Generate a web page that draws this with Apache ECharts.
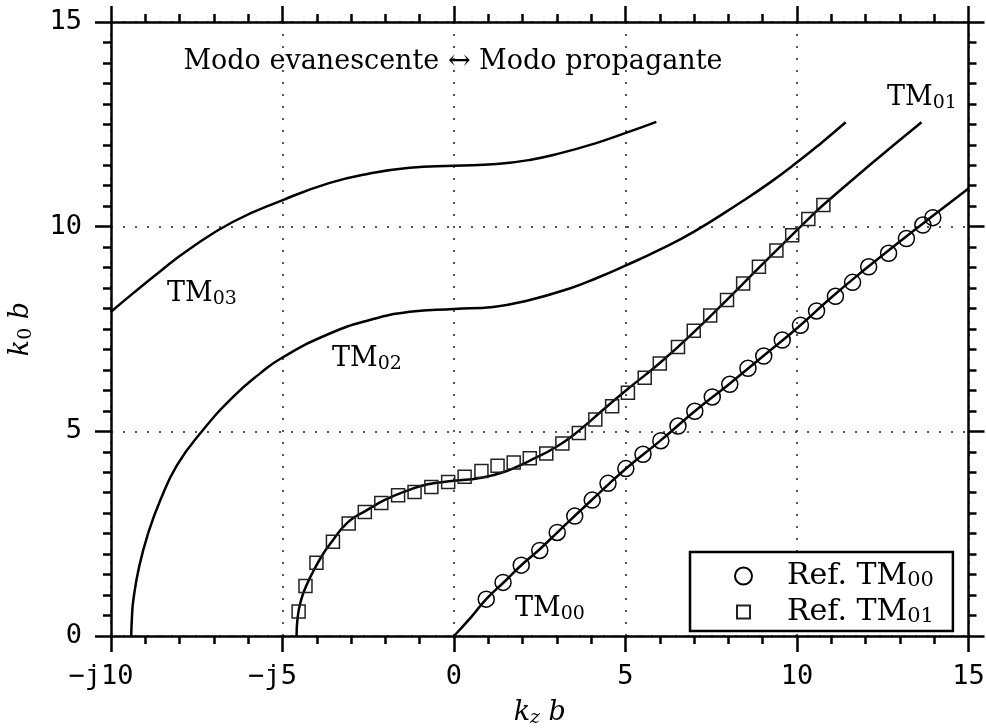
<!DOCTYPE html>
<html>
<head>
<meta charset="utf-8">
<script src="https://cdn.jsdelivr.net/npm/echarts@6/dist/echarts.min.js"></script>
<style>
html,body{margin:0;padding:0;background:#fff;}
#c{width:986px;height:728px;}
</style>
</head>
<body>
<div id="c"></div>
<script>
// ---- data ----
const xTicks = [-10, -5, 0, 5, 10, 15];
const yTicks = [0, 5, 10, 15];

const tm00X = [0, 0.5, 0.94, 1.5, 2.0, 2.5, 3.0, 4.0, 5.0, 6.0, 7.0, 8.0, 9.0, 10.0, 11.0, 12.0, 13.0, 14.0, 15.0];
const tm00Y = [0, 0.46, 0.90, 1.35, 1.76, 2.12, 2.52, 3.31, 4.08, 4.76, 5.48, 6.14, 6.83, 7.52, 8.27, 8.97, 9.64, 10.29, 10.93];

const tm01X = [-4.59, -4.56, -4.46, -4.30, -4.11, -3.87, -3.62, -3.09, -2.55, -2.0, -1.4, -0.8, 0, 0.75, 1.5, 2.2, 3.0, 3.66, 4.34, 5.03, 6.0, 7.0, 8.0, 8.82, 9.4, 10.32, 10.78, 12.0, 13.63];
const tm01Y = [0, 0.45, 0.87, 1.24, 1.57, 1.93, 2.24, 2.78, 3.07, 3.33, 3.54, 3.70, 3.79, 3.86, 4.02, 4.28, 4.63, 5.03, 5.52, 6.01, 6.67, 7.43, 8.25, 8.94, 9.42, 10.18, 10.54, 11.42, 12.55];

const tm02X = [-9.41, -9.39, -9.35, -9.18, -8.92, -8.56, -8.07, -7.36, -6.44, -5.66, -4.99, -3.62, -2.46, -1.29, 0, 1.14, 2.21, 3.37, 4.15, 5.03, 6.0, 7.0, 8.33, 9.2, 10.03, 10.7, 11.42];
const tm02Y = [0, 0.45, 0.87, 1.69, 2.50, 3.32, 4.18, 4.99, 5.84, 6.41, 6.81, 7.39, 7.72, 7.92, 7.99, 8.04, 8.21, 8.49, 8.74, 9.06, 9.44, 9.88, 10.58, 11.07, 11.59, 12.04, 12.55];

const tm03X = [-10, -9.36, -8.58, -7.75, -6.44, -4.99, -3.62, -2.46, -1.29, 0, 1.24, 2.21, 3.08, 4.1, 5.01, 5.90];
const tm03Y = [7.92, 8.37, 8.90, 9.43, 10.12, 10.65, 11.07, 11.30, 11.44, 11.49, 11.53, 11.63, 11.79, 12.03, 12.29, 12.56];

const refTm00X = [0.94, 1.43, 1.96, 2.50, 3.01, 3.52, 4.03, 4.49, 5.01, 5.51, 6.03, 6.53, 7.02, 7.53, 8.04, 8.57, 9.03, 9.57, 10.10, 10.57, 11.12, 11.62, 12.09, 12.67, 13.19, 13.67, 13.96];
const refTm00Y = [0.90, 1.31, 1.73, 2.09, 2.53, 2.93, 3.32, 3.73, 4.09, 4.44, 4.77, 5.13, 5.49, 5.84, 6.15, 6.54, 6.84, 7.23, 7.59, 7.94, 8.30, 8.64, 9.02, 9.35, 9.71, 10.04, 10.22];

const refTm01X = [-4.53, -4.33, -4.01, -3.53, -3.07, -2.60, -2.12, -1.63, -1.15, -0.66, -0.17, 0.31, 0.80, 1.27, 1.74, 2.21, 2.69, 3.16, 3.64, 4.12, 4.61, 5.07, 5.56, 6.00, 6.53, 6.99, 7.47, 7.96, 8.43, 8.89, 9.40, 9.86, 10.33, 10.77];
const refTm01Y = [0.60, 1.22, 1.79, 2.30, 2.75, 3.03, 3.25, 3.44, 3.52, 3.64, 3.76, 3.89, 4.03, 4.16, 4.24, 4.34, 4.46, 4.70, 4.96, 5.29, 5.61, 5.94, 6.31, 6.66, 7.06, 7.46, 7.83, 8.21, 8.61, 9.02, 9.42, 9.79, 10.19, 10.53];

const legendNames = ['Ref. TM00', 'Ref. TM01'];
const titleText = 'Modo evanescente \u2194 Modo propagante';
const modeLabels = [
  {main: 'TM', sub: '01'},
  {main: 'TM', sub: '03'},
  {main: 'TM', sub: '02'},
  {main: 'TM', sub: '00'}
];

// ---- helpers ----
const zip = (xs, ys) => xs.map((x, i) => [x, ys[i]]);
const SERIF = '"DejaVu Serif", "Liberation Serif", serif';
const MONO = '"DejaVu Sans Mono", "Liberation Mono", monospace';
const FS = 27;
const richSerif = {
  a: {fontFamily: SERIF, fontSize: FS, lineHeight: 30, color: '#000'},
  s: {fontFamily: SERIF, fontSize: 19, lineHeight: 18, padding: [14, 0, 0, 0], verticalAlign: 'bottom', color: '#000'},
  i: {fontFamily: SERIF, fontStyle: 'italic', fontSize: FS, lineHeight: 30, color: '#000'},
  si: {fontFamily: SERIF, fontStyle: 'italic', fontSize: 19, lineHeight: 18, padding: [14, 0, 0, 0], verticalAlign: 'bottom', color: '#000'},
  lg: {fontFamily: SERIF, fontSize: 30, lineHeight: 30, padding: [0, 0, 0, 30], color: '#000'},
  ls: {fontFamily: SERIF, fontSize: 21, lineHeight: 18, padding: [14, 0, 0, 0], verticalAlign: 'bottom', color: '#000'}
};

const chart = echarts.init(document.getElementById('c'), null, {renderer: 'canvas'});

const axisLineStyle = {color: '#000', width: 2.5};
const lineStyle = {color: '#000', width: 2.5};
const SMOOTH = 0.5;

function xLabel(v) {
  if (v < 0) return '{n|\u2212j' + (-v) + '}';
  return '{p|' + v + '}';
}

const option = {
  animation: false,
  backgroundColor: '#fff',
  grid: {left: 111, right: 17.5, top: 22, bottom: 92, containLabel: false, outerBoundsMode: 'none'},
  xAxis: [
    {
      type: 'value', min: xTicks[0], max: xTicks[xTicks.length - 1], interval: 5,
      position: 'bottom',
      axisLine: {show: true, onZero: false, lineStyle: axisLineStyle},
      axisTick: {show: true, inside: false, length: 16, lineStyle: axisLineStyle},
      minorTick: {show: true, splitNumber: 5, length: 8, lineStyle: axisLineStyle},
      splitLine: {show: true, lineStyle: {type: [2, 10], color: '#555', width: 2}},
      axisLabel: {
        margin: 27, formatter: xLabel,
        rich: {
          n: {fontFamily: MONO, fontSize: FS, lineHeight: 27, color: '#000', padding: [0, 20, 0, 0]},
          p: {fontFamily: MONO, fontSize: FS, lineHeight: 27, color: '#000'}
        }
      },
      name: '{i|k}{si|z}{i| b}', nameLocation: 'middle', nameGap: 56,
      nameTextStyle: {rich: richSerif}
    },
    {
      type: 'value', min: xTicks[0], max: xTicks[xTicks.length - 1], interval: 5,
      position: 'top',
      axisLine: {show: true, onZero: false, lineStyle: axisLineStyle},
      axisTick: {show: true, inside: false, length: 16, lineStyle: axisLineStyle},
      minorTick: {show: true, splitNumber: 5, length: 8, lineStyle: axisLineStyle},
      splitLine: {show: false},
      axisLabel: {show: false}
    }
  ],
  yAxis: [
    {
      type: 'value', min: yTicks[0], max: yTicks[yTicks.length - 1], interval: 5,
      position: 'left',
      axisLine: {show: true, onZero: false, lineStyle: axisLineStyle},
      axisTick: {show: true, inside: false, length: 16, lineStyle: axisLineStyle},
      minorTick: {show: true, splitNumber: 10, length: 8, lineStyle: axisLineStyle},
      splitLine: {show: true, lineStyle: {type: [2, 10], color: '#555', width: 2}},
      axisLabel: {margin: 29, fontFamily: MONO, fontSize: FS, color: '#000'},
      name: '{i|k}{s|0}{i| b}', nameLocation: 'middle', nameGap: 75,
      nameTextStyle: {rich: richSerif}
    },
    {
      type: 'value', min: yTicks[0], max: yTicks[yTicks.length - 1], interval: 5,
      position: 'right',
      axisLine: {show: true, onZero: false, lineStyle: axisLineStyle},
      axisTick: {show: true, inside: false, length: 16, lineStyle: axisLineStyle},
      minorTick: {show: true, splitNumber: 10, length: 8, lineStyle: axisLineStyle},
      splitLine: {show: false},
      axisLabel: {show: false}
    }
  ],
  legend: {
    orient: 'vertical', left: 690, top: 552,
    padding: [4, 19, 4, 44],
    itemWidth: 17, itemHeight: 17, itemGap: 1,
    borderColor: '#000', borderWidth: 2.5, backgroundColor: '#fff', borderRadius: 0,
    data: [
      {name: legendNames[0], icon: 'circle'},
      {name: legendNames[1], icon: 'path://M0,0M2,2L15,2L15,15L2,15ZM17,17'}
    ],
    formatter: function (name) {
      return '{lg|' + name.slice(0, -2) + '}{ls|' + name.slice(-2) + '}';
    },
    textStyle: {rich: richSerif}
  },
  series: [
    {type: 'line', name: 'TM00', data: zip(tm00X, tm00Y), showSymbol: false, smooth: SMOOTH, lineStyle: lineStyle, clip: true, z: 3},
    {type: 'line', name: 'TM01', data: zip(tm01X, tm01Y), showSymbol: false, smooth: SMOOTH, lineStyle: lineStyle, clip: true, z: 3},
    {type: 'line', name: 'TM02', data: zip(tm02X, tm02Y), showSymbol: false, smooth: SMOOTH, lineStyle: lineStyle, clip: true, z: 3},
    {type: 'line', name: 'TM03', data: zip(tm03X, tm03Y), showSymbol: false, smooth: SMOOTH, lineStyle: lineStyle, clip: true, z: 3},
    {type: 'scatter', name: legendNames[0], data: zip(refTm00X, refTm00Y), symbol: 'circle', symbolSize: 16,
      itemStyle: {color: 'rgba(0,0,0,0)', borderColor: '#000', borderWidth: 1.5, opacity: 1}, z: 4},
    {type: 'scatter', name: legendNames[1], data: zip(refTm01X, refTm01Y), symbol: 'rect', symbolSize: 13,
      itemStyle: {color: 'rgba(0,0,0,0)', borderColor: '#222', borderWidth: 1.5, opacity: 1}, z: 4}
  ],
  graphic: [
    {type: 'text', x: 453, y: 62, z: 10,
      style: {text: titleText, fontFamily: SERIF, fontSize: FS, fill: '#000', textAlign: 'center', textVerticalAlign: 'middle'}},
    {type: 'text', x: 887, y: 97.5, z: 10,
      style: {text: '{a|' + modeLabels[0].main + '}{s|' + modeLabels[0].sub + '}', rich: richSerif, textAlign: 'left', textVerticalAlign: 'middle'}},
    {type: 'text', x: 167, y: 293.5, z: 10,
      style: {text: '{a|' + modeLabels[1].main + '}{s|' + modeLabels[1].sub + '}', rich: richSerif, textAlign: 'left', textVerticalAlign: 'middle'}},
    {type: 'text', x: 332, y: 358.5, z: 10,
      style: {text: '{a|' + modeLabels[2].main + '}{s|' + modeLabels[2].sub + '}', rich: richSerif, textAlign: 'left', textVerticalAlign: 'middle'}},
    {type: 'text', x: 515, y: 608.5, z: 10,
      style: {text: '{a|' + modeLabels[3].main + '}{s|' + modeLabels[3].sub + '}', rich: richSerif, textAlign: 'left', textVerticalAlign: 'middle'}}
  ]
};
chart.setOption(option);
</script>
</body>
</html>
